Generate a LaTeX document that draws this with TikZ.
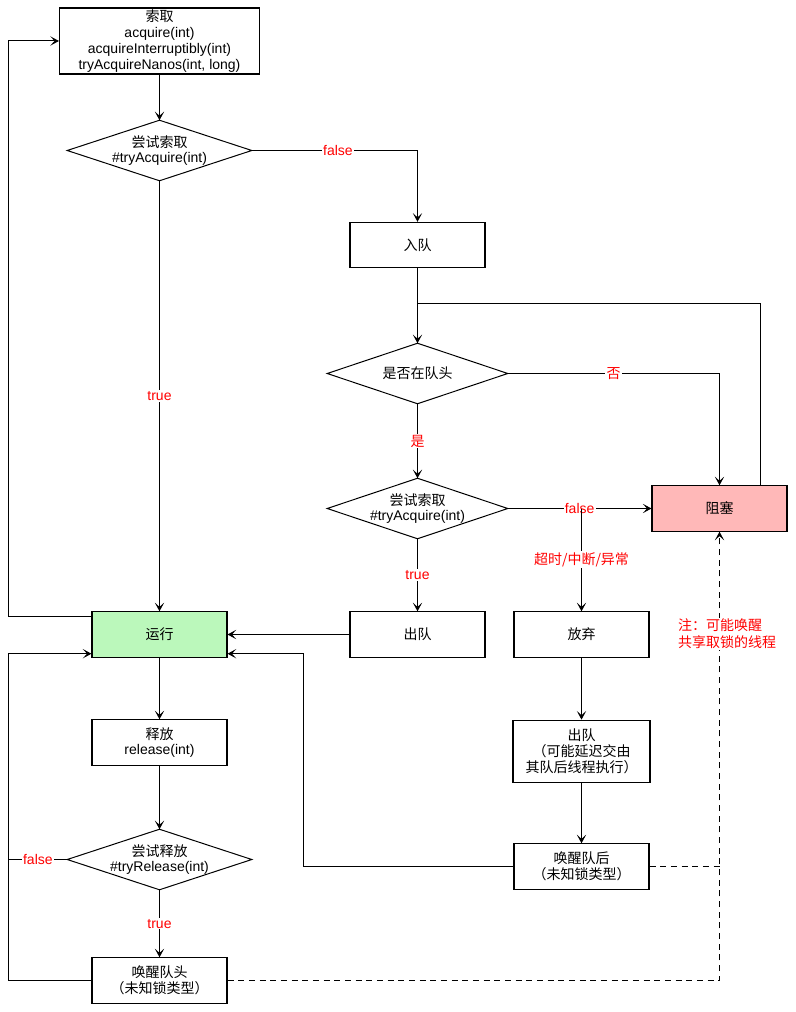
\documentclass[tikz,border=0pt]{standalone}
\usepackage{fontspec}
\setmainfont{Liberation Sans}
\newfontfamily\cjk{Noto Sans CJK SC}
\usetikzlibrary{arrows.meta,calc}

\newcommand\zh[1]{{\cjk #1}}
\definecolor{runfill}{HTML}{BBF8BB}
\definecolor{blockfill}{HTML}{FFB8B8}

\tikzset{
  box/.style={draw, line width=0.8pt, minimum width=101.25pt, minimum height=34pt,
    inner sep=1pt, align=center},
  decision/.style={minimum width=138pt, minimum height=45pt, inner sep=0pt, align=center},
  arr/.style={-{Stealth[length=6.5pt,width=7pt,inset=3.2pt]}},
  lbl/.style={fill=white, text=red, inner sep=1pt},
  link/.style={line width=0.75pt}
}

\begin{document}
\begin{tikzpicture}[x=0.75pt, y=-0.75pt, font=\fontsize{10.5}{11.8}\selectfont]
\useasboundingbox (0,0) rectangle (795,1012);

% acquire side
\node[box, minimum width=150pt, minimum height=49.5pt] (acquire) at (159.5,41)
  {\zh{索取}\\acquire(int)\\acquireInterruptibly(int)\\tryAcquireNanos(int, long)};
\node[decision] (try1) at (159.5,150.5) {\zh{尝试索取}\\\#tryAcquire(int)};
\node[box] (enq) at (417.5,245) {\zh{入队}};
\node[decision, minimum width=135pt] (head) at (417.5,373.5) {\zh{是否在队头}};
\node[decision, minimum width=135pt] (try2) at (417.5,508.5) {\zh{尝试索取}\\\#tryAcquire(int)};
\node[box, fill=blockfill] (block) at (719.5,508.5) {\zh{阻塞}};
\node[box, fill=runfill] (run) at (159.5,634.5) {\zh{运行}};
\node[box] (deq) at (417.5,634.5) {\zh{出队}};
\node[box] (giveup) at (581.5,634.5) {\zh{放弃}};
\node[box, minimum width=102.75pt, minimum height=47pt] (deq2) at (581.5,751.5)
  {\zh{出队}\\\zh{（可能延迟交由}\\\zh{其队后线程执行）}};
\node[box] (wakeNext) at (581.5,866.5) {\zh{唤醒队后}\\\zh{（未知锁类型）}};

% release side
\node[box] (release) at (159.5,742.5) {\zh{释放}\\release(int)};
\node[decision] (tryRel) at (159.5,859.5) {\zh{尝试释放}\\\#tryRelease(int)};
\node[box] (wakeHead) at (159.5,980.5) {\zh{唤醒队头}\\\zh{（未知锁类型）}};

\foreach \d in {try1,head,try2,tryRel}
  \draw[link] (\d.west) -- (\d.north) -- (\d.east) -- (\d.south) -- cycle;

\coordinate (left) at (8.5,0);
\coordinate (merge) at (0,303.5);
\coordinate (runUp) at ($(run.north west)+(0,5)$);
\coordinate (runLow) at ($(run.south west)+(0,-4)$);
\coordinate (runBack) at ($(run.south east)+(0,-4)$);

\draw[link, arr] (acquire) -- (try1);
\draw[link, arr] (try1.east) -| node[lbl, pos=0.26] {false} (enq.north);
\draw[link, arr] (try1) -- node[lbl] {true} (run);
\draw[link, arr] (enq) -- (head);
\draw[link] ($(block.north east)+(-27,0)$) |- (merge -| enq.south);
\draw[link, arr] (head.east) -| node[lbl, pos=0.25] {\zh{否}} (block.north);
\draw[link, arr] (head) -- node[lbl] {\zh{是}} (try2);
\draw[link, arr] (try2) -- node[lbl] {false} (block);
\draw[link, arr] (giveup.north |- try2.east) -- node[lbl] {\zh{超时/中断/异常}} (giveup);
\draw[link, arr] (try2) -- node[lbl] {true} (deq);
\draw[link, arr] (deq) -- (run);
\draw[link, arr] (giveup) -- (deq2);
\draw[link, arr] (deq2) -- (wakeNext);
\draw[link, arr] (wakeNext.west) -| ($(runBack)+(76,0)$) -- (runBack);

\draw[link, arr] (runUp) -- (runUp -| left) |- (acquire.west);
\draw[link, arr] (run) -- (release);
\draw[link, arr] (release) -- (tryRel);
\draw[link, arr] (tryRel) -- node[lbl] {true} (wakeHead);
\draw[link] (tryRel.west) -- node[lbl] {false} (tryRel.west -| left);
\draw[link, arr] (wakeHead.west) -- (wakeHead.west -| left) |- (runLow);

% wake-up of blocked threads
\draw[link, dash pattern=on 4.5pt off 3.5pt, arr] (wakeHead.east) -| (block.south);
\draw[link, dash pattern=on 4.5pt off 3.5pt] (wakeNext.east) -- (wakeNext.east -| block.south);
\node[fill=white, text=red, align=left, inner sep=1pt, font=\fontsize{10.5}{12.8}\selectfont] (note) at (727,634)
  {\zh{注：可能唤醒}\\\zh{共享取锁的线程}};
\end{tikzpicture}
\end{document}
